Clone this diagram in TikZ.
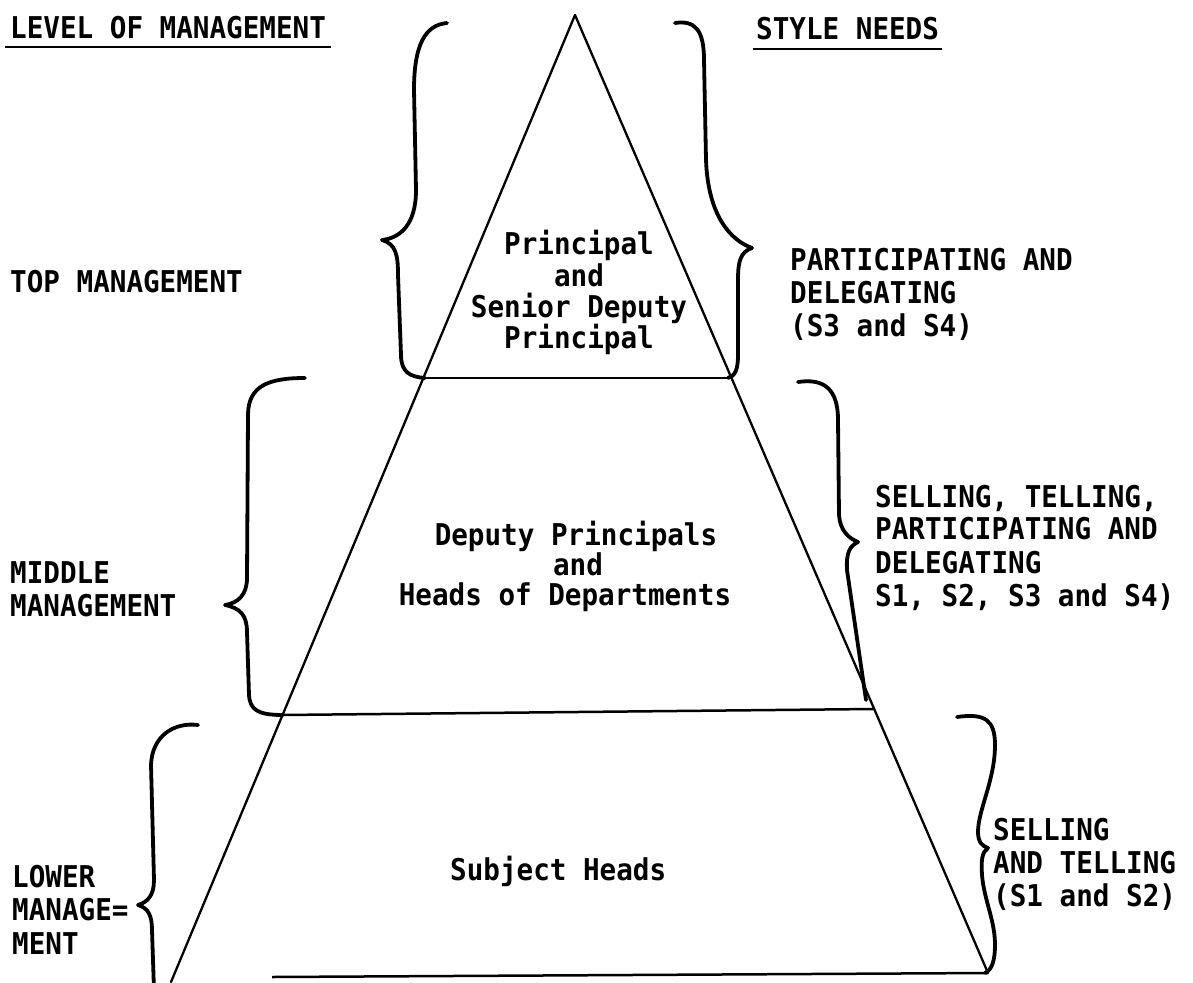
\documentclass[tikz,border=0pt]{standalone}
\usepackage{fontspec}
\newfontfamily\tw{DejaVu Sans Mono}[FakeStretch=0.92]
\begin{document}
\begin{tikzpicture}[x=1pt,y=-1pt,
  lbl/.style={font=\tw\bfseries\fontsize{30}{33}\selectfont, inner sep=0pt, anchor=base west},
  ctr/.style={lbl, anchor=base},
  brace/.style={line width=3.8pt, line cap=round, line join=round},
  side/.style={line width=2.3pt, line cap=round},
  rule/.style={line width=2.5pt}]
\fill[white] (0,0) rectangle (1193,982);
\path[use as bounding box] (0,0) rectangle (1193,982);

% triangle
\coordinate (apex) at (575,15);
\coordinate (tL) at (423,378); \coordinate (tR) at (732,378);
\coordinate (mL) at (282,715); \coordinate (mR) at (873,709);
\coordinate (bL) at (171,982); \coordinate (bR) at (988,973);
\coordinate (bS) at (272,977);
\draw[side] (apex) -- (bL);
\draw[side] (apex) -- (bR);
\draw[rule] (tL) -- (tR);
\draw[rule] (mL) -- (mR);
\draw[rule] (bS) -- (bR);

% braces
\draw[brace] (447,23) .. controls (425,25) and (414,45) .. (414,90) -- (416,190)
  .. controls (416,225) and (400,238) .. (382,240)
  .. controls (396,244) and (398,255) .. (398,275) -- (401,355)
  .. controls (401,372) and (410,377) .. (425,378);
\draw[brace] (675,23) .. controls (695,20) and (704,30) .. (704,60) -- (706,160)
  .. controls (708,215) and (730,240) .. (752,248)
  .. controls (740,252) and (738,262) .. (738,280) -- (738,355)
  .. controls (738,370) and (735,376) .. (728,378);
\draw[brace] (305,378) .. controls (270,378) and (248,385) .. (248,415) -- (247,578)
  .. controls (247,595) and (238,603) .. (225,605)
  .. controls (240,608) and (247,615) .. (247,632) -- (249,695)
  .. controls (250,710) and (258,715) .. (283,715);
\draw[brace] (798,382) .. controls (825,378) and (838,390) .. (838,420) -- (839,515)
  .. controls (840,530) and (848,538) .. (858,542)
  .. controls (850,546) and (846,552) .. (847,570) -- (866,700);
\draw[brace] (198,725) .. controls (175,722) and (152,735) .. (151,765) -- (154,880)
  .. controls (154,895) and (148,902) .. (138,905)
  .. controls (148,908) and (152,915) .. (152,930) -- (154,990);
\draw[brace] (957,717) .. controls (985,713) and (995,720) .. (995,745)
  .. controls (995,780) and (978,810) .. (978,832)
  .. controls (978,842) and (982,846) .. (988,848)
  .. controls (982,852) and (981,860) .. (982,875)
  .. controls (984,900) and (995,920) .. (995,945)
  .. controls (995,960) and (992,970) .. (985,973);

% headings
\node[lbl] (hL) at (10,39) {LEVEL OF MANAGEMENT};
\draw[rule] ([shift={(-5,8)}]hL.base west) -- ([shift={(5,8)}]hL.base east);
\node[lbl] (hR) at (756,40) {STYLE NEEDS};
\draw[rule] ([shift={(-3,9)}]hR.base west) -- ([shift={(3,9)}]hR.base east);

% left labels
\node[lbl] (top) at (10,292) {TOP MANAGEMENT};
\node[lbl] (mid1) at (10,583) {MIDDLE};
\node[lbl] (mid2) at (10,616) {MANAGEMENT};
\node[lbl] (low1) at (12,887) {LOWER};
\node[lbl] (low2) at (12,920) {MANAGE=};
\node[lbl] (low3) at (12,954) {MENT};

% inner labels
\node[ctr] (p1) at (579,254) {Principal};
\node[ctr] (p2) at (579,286) {and};
\node[ctr] (p3) at (579,317) {Senior Deputy};
\node[ctr] (p4) at (579,348) {Principal};
\node[ctr] (d1) at (576,545) {Deputy Principals};
\node[ctr] (d2) at (578,575) {and};
\node[ctr] (d3) at (565,605) {Heads of Departments};
\node[lbl] (s1) at (450,880) {Subject Heads};

% right labels
\node[lbl] (r1) at (790,270) {PARTICIPATING AND};
\node[lbl] (r2) at (790,303) {DELEGATING};
\node[lbl] (r3) at (790,336) {(S3 and S4)};
\node[lbl] (q1) at (875,507) {SELLING, TELLING,};
\node[lbl] (q2) at (875,539) {PARTICIPATING AND};
\node[lbl] (q3) at (875,573) {DELEGATING};
\node[lbl] (q4) at (875,606) {S1, S2, S3 and S4)};
\node[lbl] (u1) at (993,840) {SELLING};
\node[lbl] (u2) at (993,873) {AND TELLING};
\node[lbl] (u3) at (993,906) {(S1 and S2)};
\end{tikzpicture}
\end{document}
